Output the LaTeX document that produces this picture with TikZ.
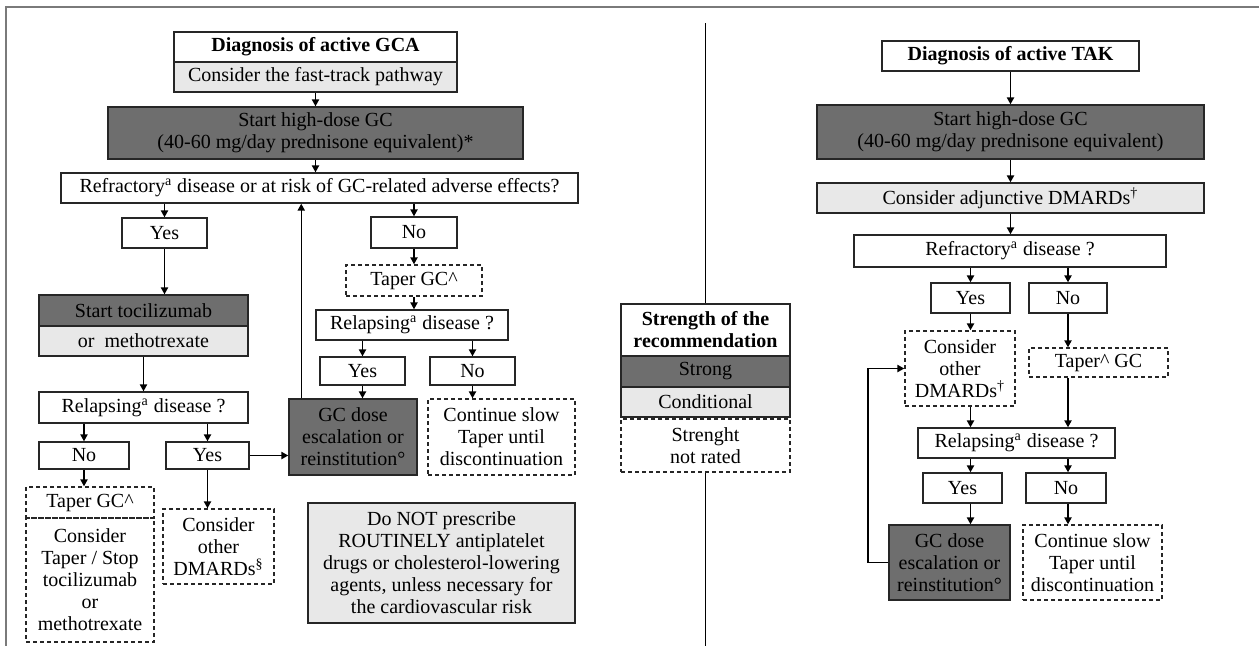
\documentclass[tikz,border=0pt]{standalone}
\usepackage{fontspec}
\setmainfont{Liberation Serif}
\usepackage{tikz}
\usetikzlibrary{positioning,arrows.meta,calc}
\definecolor{strong}{HTML}{6E6E6E}
\definecolor{cond}{HTML}{E8E8E8}
\definecolor{framegray}{HTML}{7A7A7A}
\newcommand{\sa}{\textsuperscript{a}}

\begin{document}
\begin{tikzpicture}[
    x=0.5pt,y=-0.5pt,
    font=\fontsize{10}{11}\selectfont,
    block/.style={rectangle,draw=black!85,line width=0.75pt,inner sep=1pt,
                  align=center,minimum height=15pt},
    dashblock/.style={block,dash pattern=on 2pt off 1.5pt},
    bold/.style={font=\fontsize{10}{11}\selectfont\bfseries},
    arrow/.style={-{Triangle[length=3.4pt,width=3.6pt]},line width=0.6pt}
]
\useasboundingbox (0,0) rectangle (1259,645);
\draw[framegray,line width=0.8pt] (6,700) -- (6,7) -- (1259,7);

% GCA pathway
\node[block,bold,minimum width=141.5pt] (gcaHead) at (315.5,47) {Diagnosis of active GCA};
\node[block,fill=cond,minimum width=141.5pt] (gcaFast) at (315.5,77) {Consider the fast-track pathway};
\node[block,fill=strong,minimum width=207.5pt,minimum height=26pt] (gcaGC) at (315.5,133)
    {Start high-dose GC\\(40-60 mg/day prednisone equivalent)*};
\node[block,minimum width=258.5pt] (gcaRefr) at (319.5,188)
    {Refractory\sa{} disease or at risk of GC-related adverse effects?};
\node[block,minimum width=42.5pt] (gcaYes) at (164.5,233) {Yes};
\node[block,minimum width=43pt,minimum height=15.5pt] (gcaNo) at (414,232.5) {No};
\node[block,fill=strong,minimum width=104.5pt,minimum height=15.5pt] (gcaToci) at (143.5,310.5) {Start tocilizumab};
\node[block,fill=cond,minimum width=104.5pt] (gcaMtx) at (143.5,341) {or~ methotrexate};
\node[block,minimum width=104.5pt,minimum height=15.5pt] (gcaRel) at (143.5,407.5) {Relapsing\sa{} disease ?};
\node[dashblock,minimum width=68pt,minimum height=15.5pt] (gcaTaper) at (414,280.5) {Taper GC\textasciicircum};
\node[block,minimum width=96pt] (gcaRelB) at (412,325) {Relapsing\sa{} disease ?};
\node[block,minimum width=42.5pt,minimum height=14pt] (gcaYesB) at (362.5,371) {Yes};
\node[block,minimum width=42.5pt,minimum height=14pt] (gcaNoB) at (472.5,371) {No};
\node[block,fill=strong,minimum width=64pt,minimum height=38pt] (gcaEsc) at (353,437)
    {GC dose\\escalation or\\reinstitution°};
\node[dashblock,minimum width=73.5pt,minimum height=38pt] (gcaSlow) at (501.5,437)
    {Continue slow\\Taper until\\discontinuation};
\node[block,minimum width=45pt,minimum height=13.5pt] (gcaNoC) at (84,455.5) {No};
\node[block,minimum width=41.5pt,minimum height=13.5pt] (gcaYesC) at (207.5,455.5) {Yes};
\node[dashblock,minimum width=64pt,minimum height=15.5pt] (gcaTaperB) at (90,502.5) {Taper GC\textasciicircum};
\node[dashblock,minimum width=64pt,minimum height=62pt] (gcaStop) at (90,580)
    {Consider\\Taper / Stop\\tocilizumab\\or\\methotrexate};
\node[dashblock,minimum width=55.5pt,minimum height=37.5pt] (gcaDmard) at (218.5,546.5)
    {Consider\\other\\DMARDs\textsuperscript{§}};
\node[block,fill=cond,minimum width=133.5pt,minimum height=60pt] (gcaNote) at (441.5,563)
    {Do NOT prescribe\\ROUTINELY antiplatelet\\drugs or cholesterol-lowering\\agents, unless necessary for\\the cardiovascular risk};

\coordinate (escUp) at ([xshift=6.5pt]gcaEsc.north west);
\draw[arrow] (gcaFast) -- (gcaGC);
\draw[arrow] (gcaGC.south) -- (gcaGC.south |- gcaRefr.north);
\draw[arrow] (gcaYes |- gcaRefr.south) -- (gcaYes);
\draw[arrow] (gcaNo |- gcaRefr.south) -- (gcaNo);
\draw[arrow] (gcaYes) -- (gcaYes |- gcaToci.north);
\draw[arrow] (gcaMtx) -- (gcaRel);
\draw[arrow] (gcaNo) -- (gcaNo |- gcaTaper.north);
\draw[arrow] (gcaNo |- gcaTaper.south) -- (gcaNo |- gcaRelB.north);
\draw[arrow] (gcaYesB |- gcaRelB.south) -- (gcaYesB);
\draw[arrow] (gcaNoB |- gcaRelB.south) -- (gcaNoB);
\draw[arrow] (gcaYesB) -- (gcaYesB |- gcaEsc.north);
\draw[arrow] (gcaNoB) -- (gcaNoB |- gcaSlow.north);
\draw[arrow] (escUp) -- (escUp |- gcaRefr.south);
\draw[arrow] (gcaNoC |- gcaRel.south) -- (gcaNoC);
\draw[arrow] (gcaYesC |- gcaRel.south) -- (gcaYesC);
\draw[arrow] (gcaNoC) -- (gcaNoC |- gcaTaperB.north);
\draw[arrow] (gcaYesC) -- (gcaYesC |- gcaDmard.north);
\draw[arrow] (gcaYesC) -- (gcaYesC -| gcaEsc.west);

% legend
\node[block,bold,minimum width=84.5pt,minimum height=26pt] (legHead) at (705.5,330) {Strength of the\\recommendation};
\node[block,fill=strong,minimum width=84.5pt,minimum height=15.5pt] (legStrong) at (705.5,371.5) {Strong};
\node[block,fill=cond,minimum width=84.5pt] (legCond) at (705.5,402) {Conditional};
\node[dashblock,minimum width=84.5pt,minimum height=26.5pt] (legNR) at (705.5,445.5) {Strenght\\not rated};
\coordinate (divTop) at (705.5,23);
\coordinate (divBot) at (705.5,700);
\draw[line width=0.7pt] (divTop) -- (legHead.north);
\draw[line width=0.7pt] (legNR.south) -- (divBot);

% TAK pathway
\node[block,bold,minimum width=128.5pt] (takHead) at (1010.5,56) {Diagnosis of active TAK};
\node[block,fill=strong,minimum width=193.5pt,minimum height=27pt] (takGC) at (1010.5,132)
    {Start high-dose GC\\(40-60 mg/day prednisone equivalent)};
\node[block,fill=cond,minimum width=193.5pt] (takAdj) at (1010.5,198) {Consider adjunctive DMARDs\textsuperscript{†}};
\node[block,minimum width=156pt,minimum height=16pt] (takRefr) at (1010,251) {Refractory\sa{} disease ?};
\node[block,minimum width=39.5pt] (takYes) at (970.5,298) {Yes};
\node[block,minimum width=39pt] (takNo) at (1068,298) {No};
\node[dashblock,minimum width=55pt,minimum height=37.5pt] (takOther) at (960,368.5)
    {Consider\\other\\DMARDs\textsuperscript{†}};
\node[dashblock,minimum width=69.5pt,minimum height=14.5pt] (takTaper) at (1098.5,362.5) {Taper\textasciicircum{} GC};
\node[block,minimum width=98.5pt] (takRel) at (1016.5,443) {Relapsing\sa{} disease ?};
\node[block,minimum width=39.5pt] (takYesB) at (962.5,488) {Yes};
\node[block,minimum width=40pt] (takNoB) at (1066,488) {No};
\node[block,fill=strong,minimum width=60.5pt,minimum height=37.5pt] (takEsc) at (949.5,562.5)
    {GC dose\\escalation or\\reinstitution°};
\node[dashblock,minimum width=69.5pt,minimum height=37.5pt] (takSlow) at (1092.5,562.5)
    {Continue slow\\Taper until\\discontinuation};

\coordinate (takLoop) at (868,0);
\draw[arrow] (takHead) -- (takGC);
\draw[arrow] (takGC) -- (takAdj);
\draw[arrow] (takAdj) -- (takAdj |- takRefr.north);
\draw[arrow] (takYes |- takRefr.south) -- (takYes);
\draw[arrow] (takNo |- takRefr.south) -- (takNo);
\draw[arrow] (takYes) -- (takYes |- takOther.north);
\draw[arrow] (takNo) -- (takNo |- takTaper.north);
\draw[arrow] (takYes |- takOther.south) -- (takYes |- takRel.north);
\draw[arrow] (takNo |- takTaper.south) -- (takNo |- takRel.north);
\draw[arrow] (takYes |- takRel.south) -- (takYes |- takYesB.north);
\draw[arrow] (takNo |- takRel.south) -- (takNo |- takNoB.north);
\draw[arrow] (takYes |- takYesB.south) -- (takYes |- takEsc.north);
\draw[arrow] (takNo |- takNoB.south) -- (takNo |- takSlow.north);
\draw[arrow] (takEsc.west) -| (takLoop |- takOther.west) -- (takOther.west);
\end{tikzpicture}
\end{document}
